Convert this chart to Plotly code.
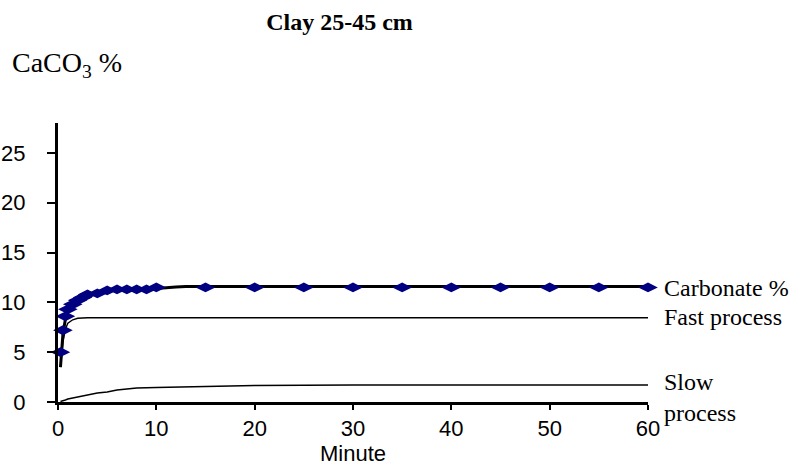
import plotly.graph_objects as go

# Measured carbonate (markers)
time_meas = [0.25, 0.5, 0.75, 1, 1.5, 2, 2.5, 3, 4, 5, 6, 7, 8, 9, 10,
             15, 20, 25, 30, 35, 40, 45, 50, 55, 60]
carbonate = [5.0, 7.2, 8.6, 9.3, 9.8, 10.2, 10.5, 10.8, 10.9, 11.2, 11.3, 11.3, 11.3, 11.3, 11.5,
             11.5, 11.5, 11.5, 11.5, 11.5, 11.5, 11.5, 11.5, 11.5, 11.5]

# Model curves
time_model = [0.25, 0.5, 0.75, 1, 1.5, 2, 3, 4, 5, 6, 7, 8, 10, 12, 13, 15, 20, 30, 40, 50, 60]
total_model = [3.5, 6.8, 8.3, 9.2, 9.9, 10.3, 10.75, 11.0, 11.15, 11.25, 11.3, 11.35, 11.4, 11.55, 11.6,
               11.6, 11.6, 11.6, 11.6, 11.6, 11.6]
fast_proc = [3.5, 6.0, 7.3, 7.9, 8.25, 8.4, 8.45, 8.45, 8.45, 8.45, 8.45, 8.45, 8.45, 8.45, 8.45,
             8.45, 8.45, 8.45, 8.45, 8.45, 8.45]
slow_proc = [0.05, 0.1, 0.2, 0.3, 0.4, 0.5, 0.7, 0.9, 1.0, 1.2, 1.3, 1.4, 1.45, 1.5, 1.55,
             1.6, 1.65, 1.7, 1.7, 1.7, 1.7]

x_ticks = [0, 10, 20, 30, 40, 50, 60]
y_ticks = [0, 5, 10, 15, 20, 25]

serif = "Liberation Serif, Times New Roman, serif"
sans = "Liberation Sans, Arial, sans-serif"

fig = go.Figure()
fig.add_trace(go.Scatter(x=time_model, y=fast_proc, mode="lines",
                         line=dict(color="black", width=1.4), name="Fast process"))
fig.add_trace(go.Scatter(x=time_model, y=slow_proc, mode="lines",
                         line=dict(color="black", width=1.4), name="Slow process"))
fig.add_trace(go.Scatter(x=time_model, y=total_model, mode="lines",
                         line=dict(color="black", width=3), name="Model"))
fig.add_trace(go.Scatter(x=time_meas, y=carbonate, mode="markers",
                         marker=dict(symbol="diamond-wide", size=14, color="#000080",
                                     line=dict(width=0)),
                         name="Carbonate %"))

label_font = dict(family=serif, size=24, color="black")
fig.add_annotation(x=60, y=carbonate[-1], xref="x", yref="y", xshift=14, xanchor="left",
                   yanchor="middle", text="Carbonate %", showarrow=False, font=label_font,
                   yshift=-1)
fig.add_annotation(x=60, y=fast_proc[-1], xref="x", yref="y", xshift=14, xanchor="left",
                   yanchor="middle", text="Fast process", showarrow=False, font=label_font,
                   yshift=1)
fig.add_annotation(x=60, y=slow_proc[-1], xref="x", yref="y", xshift=14, xanchor="left",
                   yanchor="middle", text="Slow<br>process", showarrow=False, font=label_font,
                   align="left", yshift=-12)

fig.add_annotation(xref="paper", yref="paper", x=-0.0814, y=1.208, xanchor="left", yanchor="middle",
                   text="CaCO<sub>3</sub> %", showarrow=False,
                   font=dict(family=serif, size=28, color="black"))

fig.update_layout(
    width=792, height=466,
    margin=dict(l=58, r=144, t=123, b=64),
    paper_bgcolor="white", plot_bgcolor="white",
    showlegend=False,
    title=dict(text="<b>Clay 25-45 cm</b>", x=0.4287, xanchor="center", y=0.953, yanchor="middle",
               font=dict(family=serif, size=24, color="black")),
    xaxis=dict(range=[0, 60], tickvals=x_ticks, showgrid=False, zeroline=False,
               showline=True, linecolor="black", linewidth=3, automargin=False,
               ticks="outside", ticklen=5, tickwidth=2, tickcolor="black",
               ticklabelstandoff=0, ticksuffix="\u00a0",
               tickfont=dict(family=sans, size=22, color="black"),
               title=dict(text="Minute", standoff=6,
                          font=dict(family=sans, size=22, color="black"))),
    yaxis=dict(range=[0, 28], tickvals=y_ticks, showgrid=False, zeroline=False,
               showline=True, linecolor="black", linewidth=3, automargin=False,
               ticks="outside", ticklen=8, tickwidth=2, tickcolor="black",
               ticklabelstandoff=17,
               tickfont=dict(family=sans, size=22, color="black")),
)
fig.update_traces(cliponaxis=False)

fig.write_html("out.html", config={"displayModeBar": False},
               post_script="document.body.style.margin='0';")
